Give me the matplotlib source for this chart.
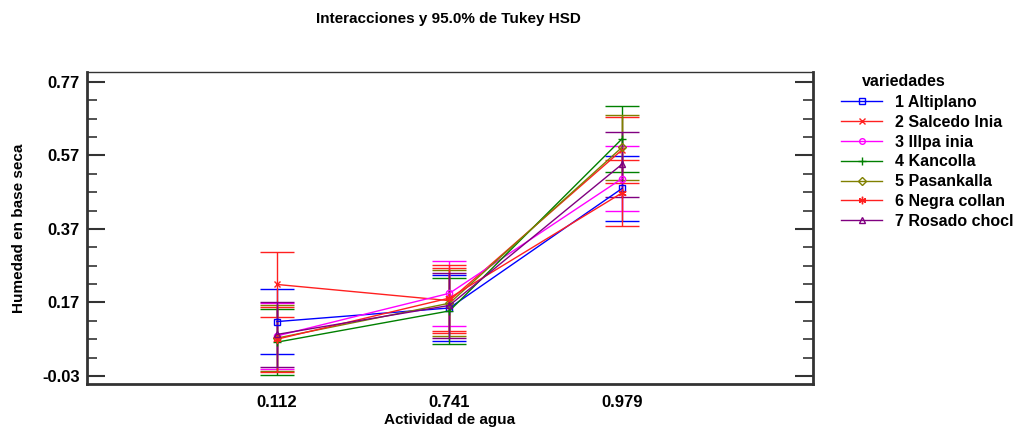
import matplotlib
matplotlib.use("Agg")
import matplotlib.pyplot as plt
from matplotlib.ticker import FixedLocator
from matplotlib.lines import Line2D

plt.rcParams["font.family"] = ["Liberation Sans", "DejaVu Sans"]
plt.rcParams["font.weight"] = "bold"

# data
water_activity = ["0.112", "0.741", "0.979"]
varieties = [
    "1 Altiplano",
    "2 Salcedo Inia",
    "3 Illpa inia",
    "4 Kancolla",
    "5 Pasankalla",
    "6 Negra collan",
    "7 Rosado chocl",
]
altiplano = [0.118, 0.155, 0.480]
salcedo = [0.219, 0.175, 0.585]
illpa = [0.079, 0.195, 0.507]
kancolla = [0.062, 0.147, 0.615]
pasankalla = [0.073, 0.168, 0.592]
negra = [0.070, 0.182, 0.468]
rosado = [0.083, 0.162, 0.546]
hsd_half = 0.089

series = [altiplano, salcedo, illpa, kancolla, pasankalla, negra, rosado]
colors = ["#0000FF", "#FF2020", "#FF00FF", "#008000", "#808000", "#FF2020", "#800080"]
markers = ["s", "x", "o", "+", "D", (6, 2, 0), "^"]
marker_sizes = [4.5, 5, 4.5, 6, 4.5, 6, 4.5]

fig = plt.figure(figsize=(10.24, 4.32), dpi=100)
ax = fig.add_axes([0.085, 0.1104, 0.709, 0.7222])

x = list(range(len(water_activity)))
for vals, col, mk, ms, name in zip(series, colors, markers, marker_sizes, varieties):
    ax.errorbar(
        x, vals, yerr=hsd_half,
        color=col, ecolor=col, elinewidth=1.0, capsize=11.9, capthick=1.3,
        linewidth=1.0, marker=mk, markersize=ms, markerfacecolor="none",
        markeredgecolor=col, markeredgewidth=1.0, label=name,
    )

ax.set_xlim(-1.1, 3.107)
ax.set_ylim(-0.0526, 0.796)
ax.set_xticks(x)
ax.set_xticklabels(water_activity, fontsize=12, fontweight="bold")
ax.tick_params(axis="x", length=0, pad=8)

ax.yaxis.set_major_locator(FixedLocator([-0.03, 0.17, 0.37, 0.57, 0.77]))
ax.yaxis.set_minor_locator(FixedLocator(
    [v / 100 for v in range(-3, 78, 5) if (v + 3) % 20 != 0]))
ax.set_yticklabels(["-0.03", "0.17", "0.37", "0.57", "0.77"], fontsize=12, fontweight="bold")
ax.tick_params(axis="y", which="major", direction="in", length=13, width=1.5,
               right=True, color="#333333", pad=5)
ax.tick_params(axis="y", which="minor", direction="in", length=7, width=1.2,
               right=True, color="#333333")

for side in ["left", "bottom", "right"]:
    ax.spines[side].set_linewidth(2)
    ax.spines[side].set_color("#333333")
ax.spines["top"].set_linewidth(1)
ax.spines["top"].set_color("#333333")

ax.set_xlabel("Actividad de agua", fontsize=11, fontweight="bold", labelpad=2)
ax.set_ylabel("Humedad en base seca", fontsize=11, fontweight="bold", labelpad=12)
fig.text(0.4375, 0.955, "Interacciones y 95.0% de Tukey HSD",
         ha="center", va="center", fontsize=11, fontweight="bold")

handles = [
    Line2D([], [], color=c, marker=m, markersize=ms * 0.9, markerfacecolor="none",
           markeredgecolor=c, linewidth=1.0)
    for c, m, ms in zip(colors, markers, marker_sizes)
]
fig.legend(handles, varieties, loc="upper left", bbox_to_anchor=(0.815, 0.795),
           frameon=False, handlelength=2.6, handletextpad=0.8,
           labelspacing=0.3, borderaxespad=0, prop={"weight": "bold", "size": 11.5})
fig.text(0.8415, 0.812, "variedades", ha="left", va="center", fontsize=11.5, fontweight="bold")

fig.savefig("out.png", dpi=100)
